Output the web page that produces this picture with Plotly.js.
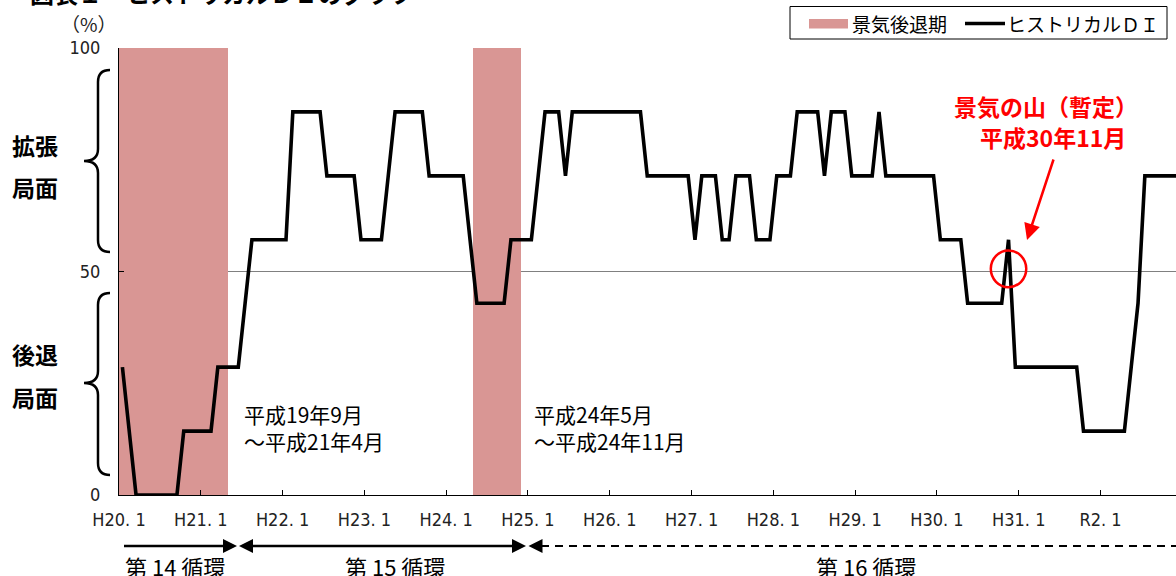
<!DOCTYPE html>
<html><head><meta charset="utf-8">
<script src="https://cdn.plot.ly/plotly-3.0.1.min.js"></script>
<style>html,body{margin:0;padding:0;background:#fff;overflow:hidden}</style>
</head><body><div id="chart" style="width:1176px;height:576px"></div>
<script>
// ---- data ----
// Historical DI (%) monthly, starting H20.1 (Jan 2008); one row per year
const diValues = [
  28.6,14.3,0,0,0,0,0,0,0,14.3,14.3,14.3,            // H20
  14.3,14.3,28.6,28.6,28.6,28.6,42.9,57.1,57.1,57.1,57.1,57.1, // H21
  57.1,85.7,85.7,85.7,85.7,85.7,71.4,71.4,71.4,71.4,71.4,57.1, // H22
  57.1,57.1,57.1,71.4,85.7,85.7,85.7,85.7,85.7,71.4,71.4,71.4, // H23
  71.4,71.4,71.4,57.1,42.9,42.9,42.9,42.9,42.9,57.1,57.1,57.1, // H24
  57.1,71.4,85.7,85.7,85.7,71.4,85.7,85.7,85.7,85.7,85.7,85.7, // H25
  85.7,85.7,85.7,85.7,85.7,71.4,71.4,71.4,71.4,71.4,71.4,71.4, // H26
  57.1,71.4,71.4,71.4,57.1,57.1,71.4,71.4,71.4,57.1,57.1,57.1, // H27
  71.4,71.4,71.4,85.7,85.7,85.7,85.7,71.4,85.7,85.7,85.7,71.4, // H28
  71.4,71.4,71.4,85.7,71.4,71.4,71.4,71.4,71.4,71.4,71.4,71.4, // H29
  57.1,57.1,57.1,57.1,42.9,42.9,42.9,42.9,42.9,42.9,57.1,28.6, // H30
  28.6,28.6,28.6,28.6,28.6,28.6,28.6,28.6,28.6,14.3,14.3,14.3, // H31/R1
  14.3,14.3,14.3,14.3,28.6,42.9,71.4,71.4,71.4,71.4,71.4,71.4  // R2
];
// recession periods (month index from H20.1; H19.9 = -4)
const recessionStart = [-4, 52];
const recessionEnd   = [15, 58];
// x tick labels (one per January)
const tickLabels = ['H20. 1','H21. 1','H22. 1','H23. 1','H24. 1','H25. 1','H26. 1',
                    'H27. 1','H28. 1','H29. 1','H30. 1','H31. 1','R2. 1'];
const peakMonth = 130; // H30.11

// ---- layout helpers (pixel -> paper) ----
const L = 119, T = 48, W = 1176 - 119, H = 447;
const PX = x => (x - L) / W;
const PY = y => (T + H - y) / H;

const xs = diValues.map((v, i) => i + 0.5);
const tickVals = tickLabels.map((t, i) => i * 12);
const barX = recessionStart.map((s, i) => (s + recessionEnd[i] + 1) / 2);
const barW = recessionStart.map((s, i) => recessionEnd[i] + 1 - s);
const barY = recessionStart.map(() => 100);

const CJK = '"Noto Sans CJK JP", "Noto Sans", sans-serif';
const NARROW = '"DejaVu Sans Condensed", "Liberation Sans Narrow", "Noto Sans", sans-serif';
const PINK = 'rgb(217,150,148)';

const traces = [
  {type: 'bar', x: barX, y: barY, width: barW, base: 0,
   marker: {color: PINK, line: {width: 0}}, showlegend: false, hoverinfo: 'skip'},
  {type: 'scatter', mode: 'lines', x: xs, y: diValues,
   line: {color: '#000', width: 3.6, shape: 'linear'}, showlegend: false}
];

function pathFromPx(cmds) {
  return cmds.map(c => {
    const op = c[0];
    const pts = [];
    for (let i = 1; i < c.length; i += 2) pts.push(PX(c[i]).toFixed(5) + ',' + PY(c[i + 1]).toFixed(5));
    return op + ' ' + pts.join(' ');
  }).join(' ');
}
function brace(top, mid, bot) {
  return pathFromPx([
    ['M', 110, top], ['Q', 98, top, 98, top + 12], ['L', 98, mid - 12],
    ['Q', 98, mid, 84, mid], ['Q', 98, mid, 98, mid + 12], ['L', 98, bot - 12],
    ['Q', 98, bot, 110, bot]
  ]);
}
// arrow helpers on the cycle row
const arrowY = 546;
function tri(tipX, dir) { // dir = +1 pointing right, -1 pointing left
  const len = 14, hh = 7;
  return pathFromPx([['M', tipX, arrowY], ['L', tipX - dir * len, arrowY - hh],
                     ['L', tipX - dir * len, arrowY + hh], ['Z']]);
}

const shapes = [
  // braces
  {type: 'path', xref: 'paper', yref: 'paper', path: brace(70, 161, 252), line: {color: '#000', width: 2.5}},
  {type: 'path', xref: 'paper', yref: 'paper', path: brace(293, 383, 475), line: {color: '#000', width: 2.5}},
  // cycle arrows
  {type: 'line', xref: 'paper', yref: 'paper', x0: PX(124), x1: PX(226), y0: PY(arrowY), y1: PY(arrowY), line: {color: '#000', width: 2.5}},
  {type: 'path', xref: 'paper', yref: 'paper', path: tri(237, 1), fillcolor: '#000', line: {width: 0}},
  {type: 'line', xref: 'paper', yref: 'paper', x0: PX(250), x1: PX(514), y0: PY(arrowY), y1: PY(arrowY), line: {color: '#000', width: 2.5}},
  {type: 'path', xref: 'paper', yref: 'paper', path: tri(239, -1), fillcolor: '#000', line: {width: 0}},
  {type: 'path', xref: 'paper', yref: 'paper', path: tri(526, 1), fillcolor: '#000', line: {width: 0}},
  {type: 'line', xref: 'paper', yref: 'paper', x0: PX(541), x1: PX(1180), y0: PY(arrowY), y1: PY(arrowY), line: {color: '#000', width: 1.8, dash: '8px,6px'}},
  {type: 'path', xref: 'paper', yref: 'paper', path: tri(528.5, -1), fillcolor: '#000', line: {width: 0}},
  // legend box
  {type: 'rect', xref: 'paper', yref: 'paper', x0: PX(790), x1: PX(1167), y0: PY(6.5), y1: PY(39), line: {color: '#000', width: 1}, fillcolor: '#fff'},
  {type: 'rect', xref: 'paper', yref: 'paper', x0: PX(809), x1: PX(848), y0: PY(19), y1: PY(28.5), line: {width: 0}, fillcolor: PINK},
  {type: 'line', xref: 'paper', yref: 'paper', x0: PX(965), x1: PX(1005), y0: PY(23.5), y1: PY(23.5), line: {color: '#000', width: 3.6}},
  // red circle around the peak
  {type: 'circle', xref: 'x', yref: 'y', x0: peakMonth + 0.5 - 2.6, x1: peakMonth + 0.5 + 2.6, y0: 50.6 - 4.1, y1: 50.6 + 4.1,
   line: {color: '#FF0000', width: 2.5}}
];

function ann(text, x, y, opts) {
  return Object.assign({text: text, xref: 'paper', yref: 'paper', x: PX(x), y: PY(y),
    xanchor: 'center', yanchor: 'middle', showarrow: false,
    font: {family: CJK, size: 20, color: '#000'}}, opts || {});
}

const annotations = [
  ann('<b>図表１　ヒストリカルＤＩのグラフ</b>', 28, -7, {xanchor: 'left', font: {family: CJK, size: 24, color: '#000'}}),
  ann('（%）', 89, 23, {font: {family: CJK, size: 19, color: '#222'}}),
  ann('<b>拡張</b>', 35, 145, {font: {family: CJK, size: 23, color: '#000'}}),
  ann('<b>局面</b>', 35, 187, {font: {family: CJK, size: 23, color: '#000'}}),
  ann('<b>後退</b>', 35, 354, {font: {family: CJK, size: 23, color: '#000'}}),
  ann('<b>局面</b>', 35, 397, {font: {family: CJK, size: 23, color: '#000'}}),
  ann('平成19年9月<br>～平成21年4月', 242, 427, {xanchor: 'left', align: 'left', font: {family: CJK, size: 21, color: '#000'}}),
  ann('平成24年5月<br>～平成24年11月', 532, 427, {xanchor: 'left', align: 'left', font: {family: CJK, size: 21, color: '#000'}}),
  ann('<b>景気の山（暫定）</b>', 1046, 106, {font: {family: CJK, size: 23, color: '#FF0000'}}),
  ann('<b>平成30年11月</b>', 1053, 137, {font: {family: CJK, size: 23, color: '#FF0000'}}),
  {text: '', xref: 'paper', yref: 'paper', x: PX(1027), y: PY(240), ax: 27, ay: -82,
   showarrow: true, arrowhead: 2, arrowsize: 1.3, arrowwidth: 2.5, arrowcolor: '#FF0000', standoff: 0},
  ann('第 14 循環', 175, 566, {font: {family: CJK, size: 22, color: '#000'}}),
  ann('第 15 循環', 395, 566, {font: {family: CJK, size: 22, color: '#000'}}),
  ann('第 16 循環', 866, 566, {font: {family: CJK, size: 22, color: '#000'}}),
  ann('景気後退期', 850, 23.5, {xanchor: 'left', font: {family: CJK, size: 19, color: '#000'}}),
  ann('ヒストリカルＤＩ', 1005, 23.5, {xanchor: 'left', font: {family: CJK, size: 19, color: '#000'}})
];

const layout = {
  width: 1176, height: 576,
  margin: {l: L, r: 0, t: T, b: 576 - T - H, pad: 0},
  paper_bgcolor: '#fff', plot_bgcolor: '#fff',
  showlegend: false, bargap: 0,
  xaxis: {range: [0, 155.07], tickmode: 'array', tickvals: tickVals, ticktext: tickLabels,
          ticks: 'inside', ticklen: 5, tickcolor: '#000', tickwidth: 1,
          showline: true, linecolor: '#000', linewidth: 1, showgrid: false, zeroline: false,
          tickfont: {family: NARROW, size: 18, color: '#222'}, ticklabelstandoff: 8, fixedrange: true},
  yaxis: {range: [0, 100], tickmode: 'array', tickvals: [0, 50, 100], ticktext: ['0', '50', '100'],
          ticks: 'inside', ticklen: 5, tickcolor: '#000', tickwidth: 1,
          showline: true, linecolor: '#000', linewidth: 1, showgrid: true, gridcolor: '#808080', gridwidth: 1,
          zeroline: false, tickfont: {family: NARROW, size: 18, color: '#222'}, ticklabelstandoff: 14, fixedrange: true},
  shapes: shapes,
  annotations: annotations
};

Plotly.newPlot('chart', traces, layout, {displayModeBar: false, staticPlot: true});
</script>
</body></html>
